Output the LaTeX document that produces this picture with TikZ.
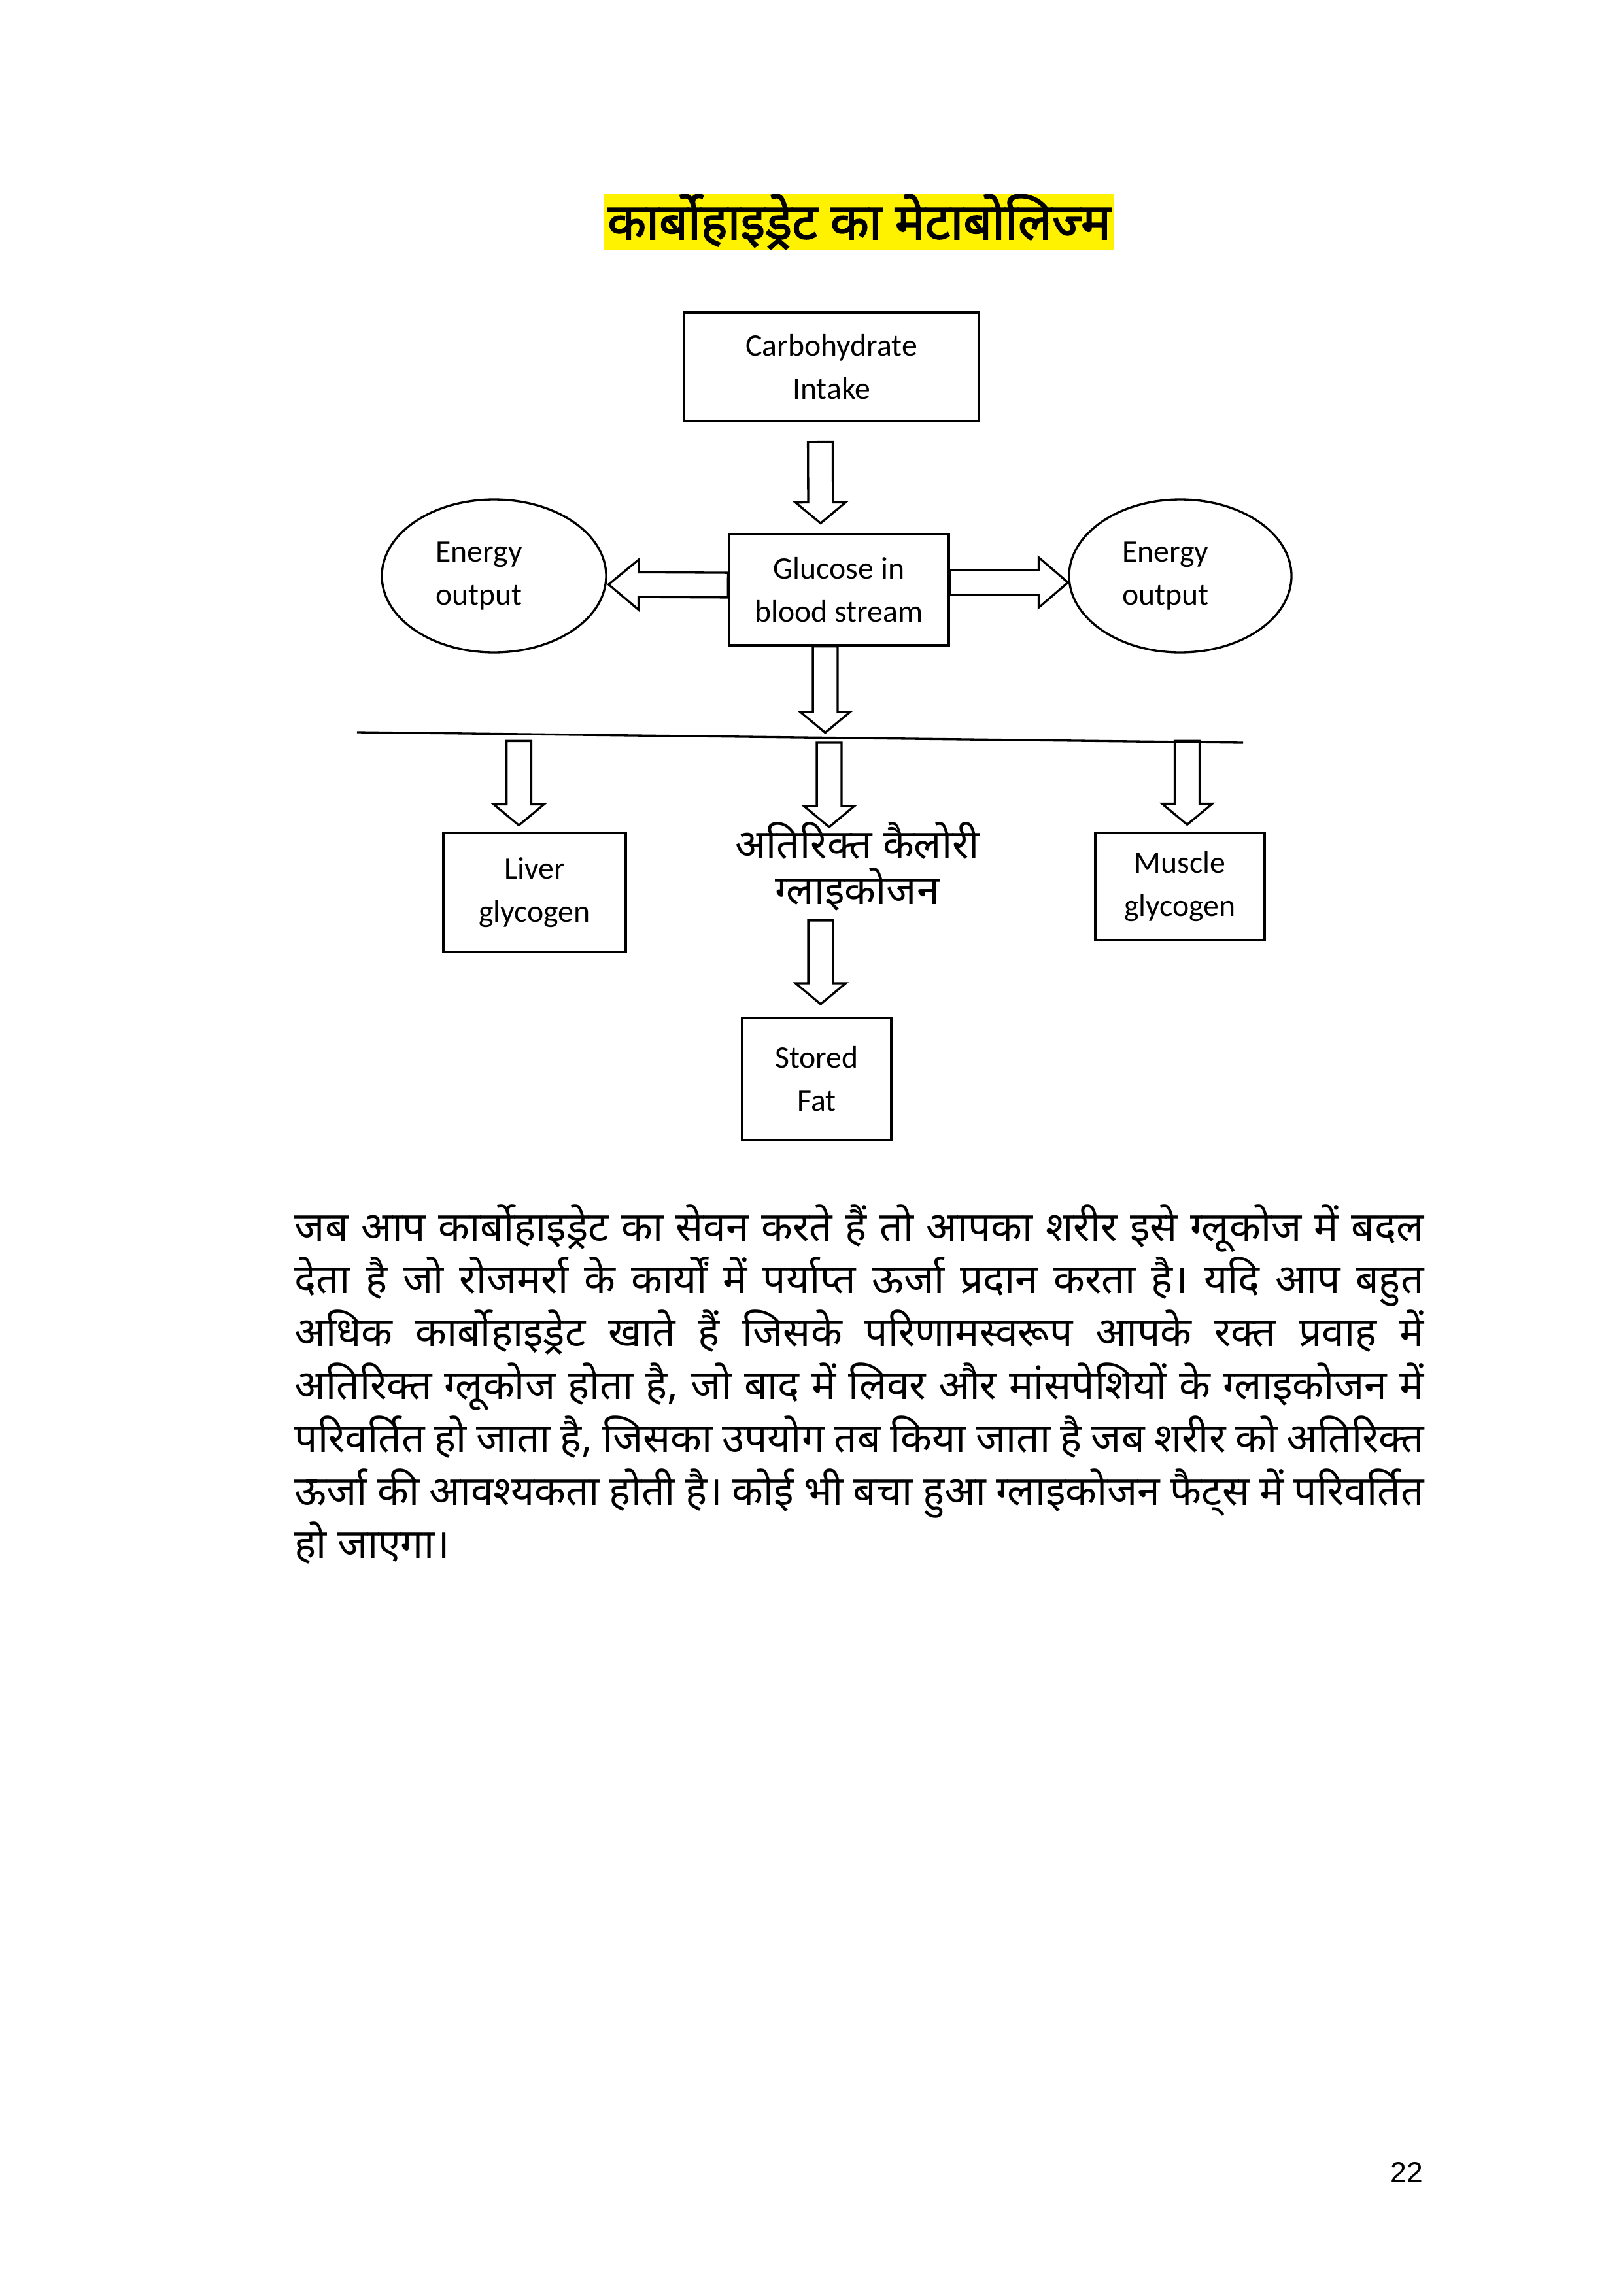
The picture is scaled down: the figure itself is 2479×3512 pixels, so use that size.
\documentclass[tikz,border=0pt]{standalone}
\usepackage{fontspec}
\setmainfont{Carlito}
\newfontfamily\hindi[Script=Devanagari]{Noto Sans}
\newfontfamily\hindibold[Script=Devanagari,FakeBold=2.2]{Noto Sans}
\newfontfamily\pagefont{Liberation Sans}
\usetikzlibrary{calc}
\usetikzlibrary{shapes.geometric}

\begin{document}
\begin{tikzpicture}[x=0.0846667mm,y=-0.0846667mm]
\tikzset{
  blockarrow/.style={line width=0.8pt,to path={
    let \p1=(\tikztostart), \p2=(\tikztotarget),
        \n1={atan2(\y2-\y1,\x2-\x1)}, \n2={veclen(\x2-\x1,\y2-\y1)} in
    {[shift={(\p1)},rotate=\n1]
      (0pt,-1.6mm) -- ({\n2*1pt-#1},-1.6mm) -- ({\n2*1pt-#1},-3.25mm)
      -- ({\n2*1pt},0pt) -- ({\n2*1pt-#1},3.25mm) -- ({\n2*1pt-#1},1.6mm)
      -- (0pt,1.6mm) -- cycle}
  }}
}
\tikzstyle{box} =[draw,rectangle,line width=0.8pt,inner sep=0pt,align=center,font=\fontsize{11.5}{16}\selectfont]
\tikzstyle{oval} =[draw,ellipse,line width=0.8pt,inner sep=0pt,text width=15.07mm,align=left,font=\fontsize{11.5}{16}\selectfont]

\useasboundingbox (0,0) rectangle (2479,3512);

% heading
\node[fill=yellow,minimum width=66.04mm,minimum height=6.86mm,inner sep=0pt,
      font=\hindibold\fontsize{18.5}{20}\selectfont] (title) at (1314,339.5) {कार्बोहाइड्रेट का मेटाबोलिज्म};

% flow chart
\node[box,minimum width=38.18mm,minimum height=14.05mm] (carb) at (1271.5,561) {Carbohydrate\\Intake};
\node[box,minimum width=28.45mm,minimum height=14.39mm] (gluc) at (1283,902) {Glucose in\\blood stream};
\node[oval,minimum width=29.04mm,minimum height=19.81mm] (enl) at (755.5,881) {Energy\\output};
\node[oval,minimum width=28.79mm,minimum height=19.81mm] (enr) at (1805,881) {Energy\\output};
\node[box,minimum width=23.62mm,minimum height=15.41mm] (liver) at (817.5,1365) {Liver\\glycogen};
\node[box,minimum width=21.93mm,minimum height=13.89mm] (muscle) at (1804.5,1356) {Muscle\\glycogen};
\node[anchor=base,inner sep=0pt,align=center,font=\hindi\fontsize{15}{16.8}\selectfont] (extra) at (1311,1383) {अतिरिक्त कैलोरी\\ग्लाइकोजन};
\node[box,minimum width=19.3mm,minimum height=15.83mm] (fat) at (1249,1650) {Stored\\Fat};

\coordinate (lineL) at (546,1120);
\coordinate (lineR) at (1901,1136);
\draw[line width=0.8pt] (lineL) -- (lineR);

\draw[blockarrow=2.7mm] ($(carb.south)+(-17,30)$) to ($(gluc.north)+(-28,-15)$);
\draw[blockarrow=3.9mm] ($(gluc.west)+(0,-7)$) to ($(enl.east)+(2,13)$);
\draw[blockarrow=3.8mm] ($(gluc.east)+(0,-11)$) to ($(enr.west)+(0,10)$);
\draw[blockarrow=2.7mm] ($(gluc.south)+(-21,0)$) to ($(gluc.south)+(-21,132)$);
\draw[blockarrow=2.7mm] ($(liver.north)+(-24,-139)$) to ($(liver.north)+(-24,-10)$);
\draw[blockarrow=2.7mm] ($(extra.base)+(-43,-247)$) to ($(extra.base)+(-43,-118)$);
\draw[blockarrow=2.7mm] ($(muscle.north)+(11,-139)$) to ($(muscle.north)+(11,-11)$);
\draw[blockarrow=2.7mm] ($(fat.north)+(6,-147)$) to ($(fat.north)+(6,-19)$);

% text below
\node[anchor=base west,text width=146.2mm,inner sep=0pt,align=justify,
      font=\hindi\fontsize{15}{19.5}\selectfont] (para) at (450,1898) {%
जब आप कार्बोहाइड्रेट का सेवन करते हैं तो आपका शरीर इसे ग्लूकोज में बदल\linebreak
देता है जो रोजमर्रा के कार्यों में पर्याप्त ऊर्जा प्रदान करता है। यदि आप बहुत\linebreak
अधिक कार्बोहाइड्रेट खाते हैं जिसके परिणामस्वरूप आपके रक्त प्रवाह में\linebreak
अतिरिक्त ग्लूकोज होता है, जो बाद में लिवर और मांसपेशियों के ग्लाइकोजन में\linebreak
परिवर्तित हो जाता है, जिसका उपयोग तब किया जाता है जब शरीर को अतिरिक्त\linebreak
ऊर्जा की आवश्यकता होती है। कोई भी बचा हुआ ग्लाइकोजन फैट्स में परिवर्तित\linebreak
हो जाएगा।};

\node[anchor=base east,inner sep=0pt,font=\pagefont\fontsize{10.7}{12}\selectfont] (pageno) at (2177,3338) {22};
\end{tikzpicture}
\end{document}
